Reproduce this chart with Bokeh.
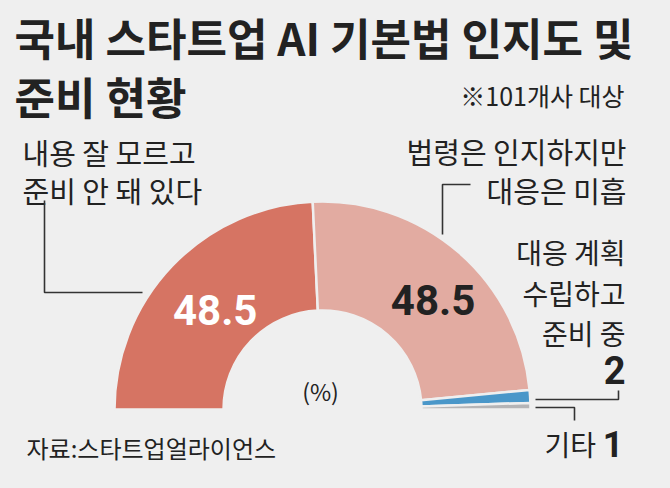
import numpy as np
from bokeh.plotting import figure
from bokeh.models import Range1d
from bokeh.embed import file_html
from bokeh.resources import INLINE
from bokeh.core.properties import value

# ---- data ----
title_lines = ["국내 스타트업 AI 기본법 인지도 및", "준비 현황"]
note = "※101개사 대상"
source_text = "자료:스타트업얼라이언스"
unit_text = "(%)"
category_lines = [
    ["내용 잘 모르고", "준비 안 돼 있다"],
    ["법령은 인지하지만", "대응은 미흡"],
    ["대응 계획", "수립하고", "준비 중"],
    ["기타"],
]
values = [48.5, 48.5, 2, 1]
value_labels = ["48.5", "48.5", "2", "1"]
colors = ["#d67463", "#e2aba1", "#4a97c9", "#b4b4b6"]

# ---- layout ----
BG = "#efefef"
W, H = 654, 472
FONT = "Noto Sans CJK KR"
NUMFONT = "Roboto"
TXT = "#222222"


def sy(y):
    return 480 - y


p = figure(width=W, height=H, x_range=Range1d(8, 8 + W), y_range=Range1d(0, H),
           output_backend="svg", toolbar_location=None, min_border=0)
p.axis.visible = False
p.grid.visible = False
p.outline_line_color = None
p.background_fill_color = BG
p.border_fill_color = BG

cx, cy = 330, sy(417)
r_in, r_out = 99, 208

vals = np.array(values, dtype=float)
cum = np.cumsum(vals)
prev = cum - vals
total = vals.sum()
start = np.pi * (1 - cum / total)
end = np.pi * (1 - prev / total)

p.annular_wedge(x=[cx] * len(vals), y=[cy] * len(vals), inner_radius=r_in, outer_radius=r_out,
                start_angle=list(start), end_angle=list(end), fill_color=colors,
                line_color=BG, line_width=2.5)

# value labels in the two large slices
mid = (start + end) / 2
r_lab = 158
for i, col in [(0, "white"), (1, TXT)]:
    p.text(x=[cx + r_lab * np.cos(mid[i]) + 7], y=[cy + r_lab * np.sin(mid[i]) - 10],
           text=[value_labels[i]],
           text_font=value(NUMFONT), text_font_style="bold", text_font_size="42px",
           text_color=col, text_align="center", text_baseline="middle")

# title
p.text(x=[22], y=[sy(44)], text=[title_lines[0]], text_font=value(FONT), text_font_style="bold",
       text_font_size="44px", text_color=TXT, text_align="left", text_baseline="middle")
p.text(x=[22], y=[sy(103)], text=[title_lines[1]], text_font=value(FONT), text_font_style="bold",
       text_font_size="44px", text_color=TXT, text_align="left", text_baseline="middle")
p.text(x=[632], y=[sy(102)], text=[note], text_font=value(FONT), text_font_size="25px",
       text_color=TXT, text_align="right", text_baseline="middle")


def label(x, y, t, align, size="29px", style="normal", font=FONT):
    p.text(x=[x], y=[sy(y)], text=[t], text_font=value(font), text_font_size=size,
           text_font_style=style, text_color=TXT, text_align=align, text_baseline="middle")


# category labels
label(30, 159, category_lines[0][0], "left")
label(30, 197, category_lines[0][1], "left")
label(634, 158, category_lines[1][0], "right")
label(634, 197, category_lines[1][1], "right")
label(633, 259, category_lines[2][0], "right", "28px")
label(633, 300, category_lines[2][1], "right", "28px")
label(633, 340, category_lines[2][2], "right", "28px")
label(633, 377, value_labels[2], "right", "38px", "bold", NUMFONT)
label(552, 451, category_lines[3][0], "left", "28px")
label(631, 451, value_labels[3], "right", "36px", "bold", NUMFONT)

label(328, 398, unit_text, "center", "23px")
label(34, 455, source_text, "left", "24px")

# leader lines
lc = "#333333"
lw = 1.6
p.line(x=[52, 52, 150], y=[sy(208), sy(300), sy(300)], line_color=lc, line_width=lw)
p.line(x=[478, 450, 450], y=[sy(192), sy(192), sy(242)], line_color=lc, line_width=lw)
p.line(x=[543, 626, 626], y=[sy(407), sy(407), sy(398)], line_color=lc, line_width=lw)
p.line(x=[543, 582, 582], y=[sy(415), sy(415), sy(428)], line_color=lc, line_width=lw)

html = file_html(p, INLINE)
html = html.replace("<head>", "<head><style>body{background:%s;margin:8px;}</style>" % BG, 1)
open("out.html", "w").write(html)
